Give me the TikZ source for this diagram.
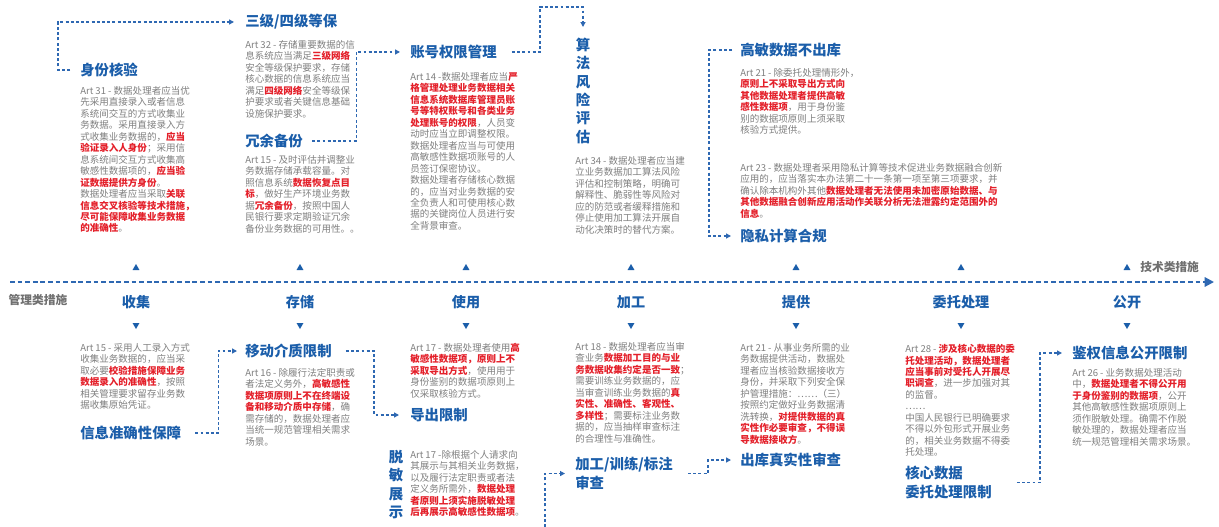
\documentclass[tikz,border=0pt]{standalone}
\usepackage{fontspec}
\setmainfont{Noto Sans CJK SC}
\usetikzlibrary{arrows.meta,calc,shapes.geometric}
\definecolor{hblue}{RGB}{27,94,170}
\definecolor{lblue}{RGB}{46,104,178}
\definecolor{bgray}{RGB}{128,128,128}
\definecolor{hred}{RGB}{228,32,42}
\definecolor{sgray}{RGB}{112,112,112}
\newcommand\rb[1]{\textcolor{hred}{\bfseries #1}}
\begin{document}
\begin{tikzpicture}[x=0.75pt,y=-0.75pt,
  body/.style={anchor=north west,inner sep=0pt,align=left,text=bgray,font=\fontsize{7.15}{8.6}\selectfont},
  head/.style={anchor=west,inner sep=0pt,text=hblue,font=\fontsize{10.8}{14.3}\selectfont\bfseries},
  headml/.style={anchor=north west,inner sep=0pt,align=left,text=hblue,font=\fontsize{10.8}{14}\selectfont\bfseries},
  vhead/.style={anchor=north,inner sep=0pt,align=center,text=hblue,font=\fontsize{10.8}{13.7}\selectfont\bfseries},
  stage/.style={inner sep=0pt,text=hblue,font=\fontsize{10.6}{12}\selectfont\bfseries},
  side/.style={inner sep=0pt,text=sgray,font=\fontsize{8.8}{10}\selectfont\bfseries},
  triup/.style={regular polygon,regular polygon sides=3,fill=hblue,draw=none,inner sep=0pt,minimum size=6pt},
  tridown/.style={triup,shape border rotate=180},
  timeline/.style={draw=lblue,line width=1.5pt,dash pattern=on 3.6pt off 2.1pt,-{Triangle[length=7pt,width=7pt]}},
  conn/.style={draw=lblue,line width=0.9pt,dash pattern=on 2.2pt off 1.7pt,-{Triangle[length=3.6pt,width=3.6pt]}}
]
\useasboundingbox (0,0) rectangle (1219,527);
\fill[white] (0,0) rectangle (1219,527);

% ---------- timeline ----------
\coordinate (tlA) at (10,282);
\coordinate (tlB) at (1214,282);
\draw[timeline] (tlA) -- (tlB);
\node[side] (mgmt) at (38,300) {管理类措施};
\node[side,anchor=west] (tech) at (1140,267) {技术类措施};

\foreach \n/\x/\t in {s1/136/收集,s2/300/存储,s3/466/使用,s4/631/加工,s5/796/提供,s6/961/委托处理,s7/1127/公开}{
  \node[stage] (\n) at (\x,302) {\t};
  \node[triup] (\n u) at (\x,268) {};
  \node[tridown] (\n d) at (\x,325) {};
}

% ---------- top section ----------
\node[head] (h1) at (80,70) {身份核验};
\node[body] (b1) at (80,86) {Art 31 - 数据处理者应当优\\
先采用直接录入或者信息\\
系统间交互的方式收集业\\
务数据。采用直接录入方\\
式收集业务数据的，\rb{应当}\\
\rb{验证录入人身份}；采用信\\
息系统间交互方式收集高\\
敏感性数据项的，\rb{应当验}\\
\rb{证数据提供方身份}。\\
数据处理者应当采取\rb{关联}\\
\rb{信息交叉核验等技术措施，}\\
\rb{尽可能保障收集业务数据}\\
\rb{的准确性}。};

\node[head] (h2) at (245,22) {三级/四级等保};
\node[body] (b2) at (245,40) {Art 32 - 存储重要数据的信\\
息系统应当满足\rb{三级网络}\\
安全等级保护要求，存储\\
核心数据的信息系统应当\\
满足\rb{四级网络}安全等级保\\
护要求或者关键信息基础\\
设施保护要求。};

\node[head] (h3) at (245,141) {冗余备份};
\node[body] (b3) at (245,155) {Art 15 - 及时评估并调整业\\
务数据存储承载容量。对\\
照信息系统\rb{数据恢复点目}\\
\rb{标}，做好生产环境业务数\\
据\rb{冗余备份}，按照中国人\\
民银行要求定期验证冗余\\
备份业务数据的可用性。。};

\node[head] (h4) at (410,52) {账号权限管理};
\node[body] (b4) at (410,72) {Art 14 -数据处理者应当\rb{严}\\
\rb{格管理处理业务数据相关}\\
\rb{信息系统数据库管理员账}\\
\rb{号等特权账号和各类业务}\\
\rb{处理账号的权限}，人员变\\
动时应当立即调整权限。\\
数据处理者应当与可使用\\
高敏感性数据项账号的人\\
员签订保密协议。\\
数据处理者存储核心数据\\
的，应当对业务数据的安\\
全负责人和可使用核心数\\
据的关键岗位人员进行安\\
全背景审查。};

\node[vhead] (h5) at (583,38) {算\\法\\风\\险\\评\\估};
\node[body] (b5) at (575,156) {Art 34 - 数据处理者应当建\\
立业务数据加工算法风险\\
评估和控制策略，明确可\\
解释性、脆弱性等风险对\\
应的防范或者缓释措施和\\
停止使用加工算法开展自\\
动化决策时的替代方案。};

\node[head] (h6) at (740,50) {高敏数据不出库};
\node[body] (b6) at (740,68) {Art 21 - 除委托处理情形外，\\
\rb{原则上不采取导出方式向}\\
\rb{其他数据处理者提供高敏}\\
\rb{感性数据项}，用于身份鉴\\
别的数据项原则上须采取\\
核验方式提供。};

\node[body] (b7) at (740,163) {Art 23 -  数据处理者采用隐私计算等技术促进业务数据融合创新\\
应用的，应当落实本办法第二十一条第一项至第三项要求，并\\
确认除本机构外其他\rb{数据处理者无法使用未加密原始数据、与}\\
\rb{其他数据融合创新应用活动作关联分析无法泄露约定范围外的}\\
\rb{信息}。};
\node[head] (h7) at (740,236) {隐私计算合规};

% ---------- bottom section ----------
\node[body] (b8) at (80,343) {Art 15 - 采用人工录入方式\\
收集业务数据的，应当采\\
取必要\rb{校验措施保障业务}\\
\rb{数据录入的准确性}，按照\\
相关管理要求留存业务数\\
据收集原始凭证。};
\node[head] (h8) at (80,433) {信息准确性保障};

\node[head] (h9) at (245,351) {移动介质限制};
\node[body] (b9) at (245,368) {Art 16 - 除履行法定职责或\\
者法定义务外，\rb{高敏感性}\\
\rb{数据项原则上不在终端设}\\
\rb{备和移动介质中存储}，确\\
需存储的，数据处理者应\\
当统一规范管理相关需求\\
场景。};

\node[body] (b10) at (410,343) {Art 17 - 数据处理者使用\rb{高}\\
\rb{敏感性数据项，原则上不}\\
\rb{采取导出方式}，使用用于\\
身份鉴别的数据项原则上\\
仅采取核验方式。};
\node[head] (h10) at (410,415) {导出限制};

\node[vhead] (h11) at (396,450) {脱\\敏\\展\\示};
\node[body] (b11) at (410,450) {Art 17 -除根据个人请求向\\
其展示与其相关业务数据，\\
以及履行法定职责或者法\\
定义务所需外，\rb{数据处理}\\
\rb{者原则上须实施脱敏处理}\\
\rb{后再展示高敏感性数据项}。};

\node[body] (b12) at (575,342) {Art 18 - 数据处理者应当审\\
查业务\rb{数据加工目的与业}\\
\rb{务数据收集约定是否一致}；\\
需要训练业务数据的，应\\
当审查训练业务数据的\rb{真}\\
\rb{实性、准确性、客观性、}\\
\rb{多样性}；需要标注业务数\\
据的，应当抽样审查标注\\
的合理性与准确性。};
\node[headml] (h12) at (575,457) {加工/训练/标注\\审查};

\node[body] (b13) at (740,343) {Art 21 - 从事业务所需的业\\
务数据提供活动，数据处\\
理者应当核验数据接收方\\
身份，并采取下列安全保\\
护管理措施：……（三）\\
按照约定做好业务数据清\\
洗转换，\rb{对提供数据的真}\\
\rb{实性作必要审查，不得误}\\
\rb{导数据接收方}。};
\node[head] (h13) at (740,460) {出库真实性审查};

\node[body] (b14) at (905,344) {Art 28 - \rb{涉及核心数据的委}\\
\rb{托处理活动，数据处理者}\\
\rb{应当事前对受托人开展尽}\\
\rb{职调查}，进一步加强对其\\
的监督。\\
……\\
中国人民银行已明确要求\\
不得以外包形式开展业务\\
的，相关业务数据不得委\\
托处理。};
\node[headml] (h14) at (905,466) {核心数据\\委托处理限制};

\node[head] (h15) at (1072,353) {鉴权信息公开限制};
\node[body] (b15) at (1072,368) {Art 26 - 业务数据处理活动\\
中，\rb{数据处理者不得公开用}\\
\rb{于身份鉴别的数据项}，公开\\
其他高敏感性数据项原则上\\
须作脱敏处理。确需不作脱\\
敏处理的，数据处理者应当\\
统一规范管理相关需求场景。};

% ---------- connectors ----------
\draw[conn] ($(h1.west)+(-10,0)$) -- ++(-12,0) |- ($(h2.west)+(-11,0)$);
\draw[conn] ($(h3.east)+(9,0)$) -- ++(44,0) |- ($(h4.west)+(-10,0)$);
\draw[conn] ($(h4.east)+(15,0)$) -- ++(28,0) |- ($(h5.north)+(0,-31)$) -- ($(h5.north)+(0,-11)$);
\draw[conn] ($(h6.west)+(-8,0)$) -- ++(-23,0) |- ($(h7.west)+(-9,0)$);
\draw[conn] ($(h8.east)+(14,0)$) -- ++(23,0) |- ($(h9.west)+(-8,0)$);
\draw[conn] ($(h9.east)+(14,0)$) -- ++(28,0) |- ($(h10.west)+(-11,0)$);
\draw[conn] ($(h11.south)+(0,8)$) |- ($(h12.west)+(-30,70)$) |- ($(h12.west)+(-10,0)$);
\draw[conn] ($(h12.east)+(15,0)$) -- ++(20,0) |- ($(h13.west)+(-9,0)$);
\draw[conn] ($(h14.east)+(25,0)$) -- ++(23,0) |- ($(h15.west)+(-10,0)$);
\end{tikzpicture}
\end{document}
